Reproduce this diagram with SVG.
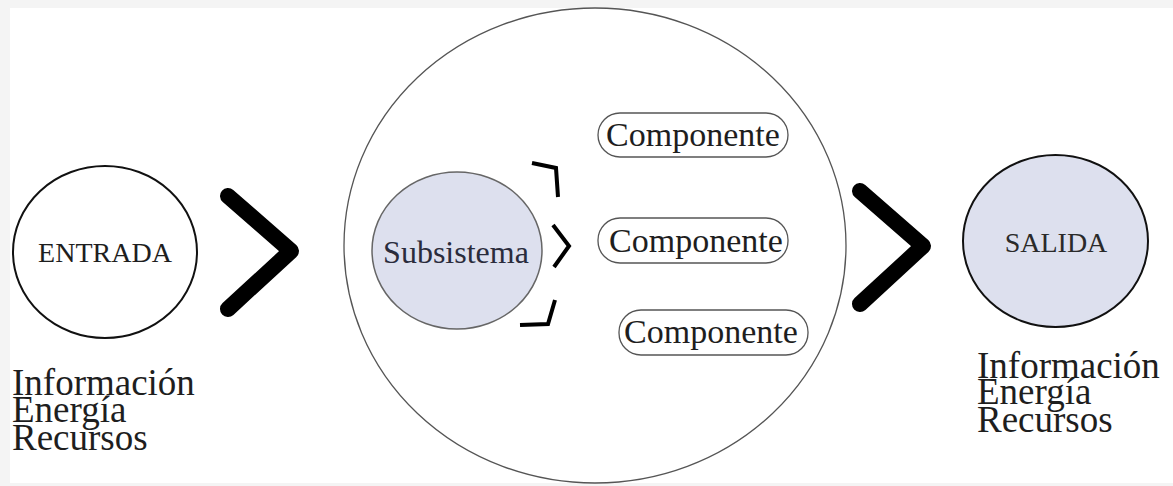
<svg xmlns="http://www.w3.org/2000/svg" width="1173" height="486" viewBox="0 0 1173 486">
<style>
.t{font-family:"Liberation Serif","Times New Roman",serif;fill:#1e1e1e}
.comp rect{fill:#fff;stroke:#555;stroke-width:1.3}
.comp text{font-size:34px;text-anchor:middle}
.big{fill:none;stroke:#000;stroke-width:16;stroke-linecap:round;stroke-linejoin:round}
.small{fill:none;stroke:#000;stroke-width:4;stroke-linecap:butt;stroke-linejoin:miter}
.list{font-size:37px}
</style>
<rect x="0" y="0" width="1173" height="486" fill="#f4f4f4"/>
<rect x="10" y="8" width="1163" height="475" fill="#fff"/>

<g id="sistema">
<ellipse cx="595" cy="245.5" rx="251" ry="237.5" fill="#fff" stroke="#555" stroke-width="1.3"/>
</g>

<g id="entrada">
<ellipse cx="105" cy="252" rx="92" ry="86" fill="#fff" stroke="#111" stroke-width="2"/>
<text class="t" x="105" y="262" font-size="28" text-anchor="middle">ENTRADA</text>
</g>

<g id="subsistema">
<ellipse cx="457" cy="250.5" rx="85" ry="78.5" fill="#dde0ee" stroke="#666" stroke-width="1.5"/>
<text class="t" x="456" y="263" font-size="32" text-anchor="middle" style="fill:#2a2c3c">Subsistema</text>
</g>

<g id="componente1" class="comp">
<rect x="598" y="113" width="190" height="44" rx="22"/>
<text class="t" x="693" y="146">Componente</text>
</g>
<g id="componente2" class="comp">
<rect x="598" y="218" width="190" height="45" rx="22"/>
<text class="t" x="696" y="252">Componente</text>
</g>
<g id="componente3" class="comp">
<rect x="619" y="310" width="189" height="45" rx="22"/>
<text class="t" x="711" y="343">Componente</text>
</g>

<g id="salida">
<ellipse cx="1055.5" cy="241" rx="92.5" ry="86" fill="#dde0ee" stroke="#111" stroke-width="2"/>
<text class="t" x="1056" y="252" font-size="28" text-anchor="middle" style="fill:#2a2a2a">SALIDA</text>
</g>

<g id="entrada-recursos" class="t list">
<text x="12" y="395">Información</text>
<text x="12" y="422">Energía</text>
<text x="12" y="450">Recursos</text>
</g>

<g id="salida-recursos" class="t list">
<text x="977" y="378">Información</text>
<text x="977" y="404">Energía</text>
<text x="977" y="432">Recursos</text>
</g>

<g id="connectors">
<path class="big" d="M228,196 L291,251 L228,309"/>
<path class="big" d="M860,191 L923,246 L860,304"/>
<path class="small" d="M532,163 L556,168 L558,197"/>
<path class="small" d="M553,225 L569,246 L554,267"/>
<path class="small" d="M555,300 L548,324 L520,325"/>
</g>
</svg>
